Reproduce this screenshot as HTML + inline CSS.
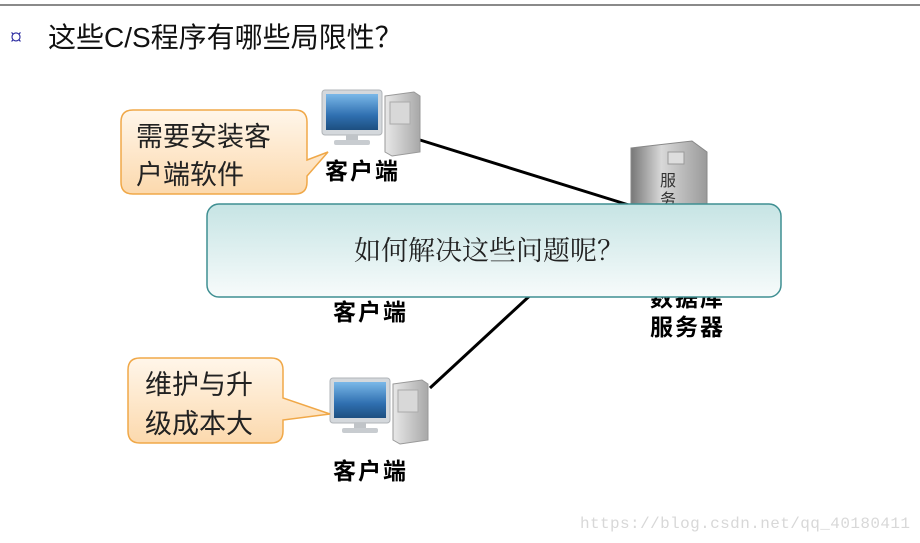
<!DOCTYPE html>
<html><head><meta charset="utf-8"><style>
html,body{margin:0;padding:0;background:#fff;width:920px;height:543px;overflow:hidden}
svg{display:block}
.cj{font-family:"Liberation Sans","Noto Sans CJK SC",sans-serif}
.se{font-family:"Liberation Serif","Noto Serif CJK SC",serif}
</style></head><body>
<svg width="920" height="543" viewBox="0 0 920 543" xmlns="http://www.w3.org/2000/svg">
<defs>
<linearGradient id="og" x1="0" y1="0" x2="0" y2="1"><stop offset="0" stop-color="#fff6ea"/><stop offset="1" stop-color="#fcd9ad"/></linearGradient>
<linearGradient id="tg" x1="0" y1="0" x2="0" y2="1"><stop offset="0" stop-color="#c6e4e4"/><stop offset="1" stop-color="#f7fbfb"/></linearGradient>
<linearGradient id="sc" x1="0" y1="0" x2="0" y2="1"><stop offset="0" stop-color="#7ab8e8"/><stop offset="0.6" stop-color="#2f6fb0"/><stop offset="1" stop-color="#1d4f80"/></linearGradient>
<linearGradient id="tw" x1="0" y1="0" x2="1" y2="0"><stop offset="0" stop-color="#e8e8e8"/><stop offset="1" stop-color="#a8a8a8"/></linearGradient>
<linearGradient id="sv" x1="0" y1="0" x2="1" y2="0"><stop offset="0" stop-color="#777"/><stop offset="0.4" stop-color="#d8d8d8"/><stop offset="1" stop-color="#9a9a9a"/></linearGradient>
<g id="pc">
<rect x="0" y="0" width="60" height="45" rx="3" fill="#d4d8dc" stroke="#b0b4b8"/>
<rect x="4" y="4" width="52" height="36" fill="url(#sc)"/>
<rect x="24" y="45" width="12" height="6" fill="#c0c4c8"/>
<rect x="12" y="50" width="36" height="5" rx="2" fill="#c8ccd0"/>
<polygon points="63,6 92,2 98,6 98,62 70,66 63,62" fill="url(#tw)" stroke="#999"/>
<rect x="68" y="12" width="20" height="22" fill="#d8d8d8" stroke="#aaa"/>
</g>
</defs>
<rect x="0" y="4" width="920" height="2" fill="#8a8a8a"/>
<text x="10" y="45" font-size="24" fill="#2a2aa0" class="se">¤</text>
<text x="48" y="47" font-size="28" fill="#111" class="cj">这些C/S程序有哪些局限性？</text>

<line x1="420" y1="140" x2="632" y2="206" stroke="#000" stroke-width="3"/>
<line x1="430" y1="388" x2="536" y2="290" stroke="#000" stroke-width="3"/>

<use href="#pc" x="322" y="90"/>
<use href="#pc" x="330" y="378"/>

<polygon points="631,148 692,141 707,152 707,210 631,210" fill="url(#sv)" stroke="#888"/>
<rect x="668" y="152" width="16" height="12" fill="#ddd" stroke="#999"/>
<text x="660" y="186" font-size="16" fill="#333" class="cj">服</text>
<text x="660" y="205" font-size="16" fill="#333" class="cj">务</text>

<g font-size="23" font-weight="bold" class="cj" letter-spacing="2">
<text x="325" y="179">客户端</text>
<text x="333" y="320">客户端</text>
<text x="333" y="479">客户端</text>
<text x="650" y="306">数据库</text>
<text x="650" y="335">服务器</text>
</g>

<path d="M133,110 H295 Q307,110 307,122 V160 L328,152 L307,176 V182 Q307,194 295,194 H133 Q121,194 121,182 V122 Q121,110 133,110 Z" fill="url(#og)" stroke="#f0a848" stroke-width="1.5"/>
<text x="136" y="146" font-size="27" fill="#222" class="cj">需要安装客</text>
<text x="136" y="184" font-size="27" fill="#222" class="cj">户端软件</text>

<path d="M140,358 H271 Q283,358 283,370 V398 L330,414 L283,420 V431 Q283,443 271,443 H140 Q128,443 128,431 V370 Q128,358 140,358 Z" fill="url(#og)" stroke="#f0a848" stroke-width="1.5"/>
<text x="145" y="394" font-size="27" fill="#222" class="cj">维护与升</text>
<text x="145" y="433" font-size="27" fill="#222" class="cj">级成本大</text>

<rect x="207" y="204" width="574" height="93" rx="12" fill="url(#tg)" stroke="#3f8f92" stroke-width="1.5"/>
<text x="489" y="260" font-size="27" fill="#222" text-anchor="middle" class="se">如何解决这些问题呢？</text>

<text x="910" y="528" font-size="16" fill="#d8d8d8" text-anchor="end" font-family="Liberation Mono, monospace" textLength="330">https://blog.csdn.net/qq_40180411</text>
</svg>
</body></html>
